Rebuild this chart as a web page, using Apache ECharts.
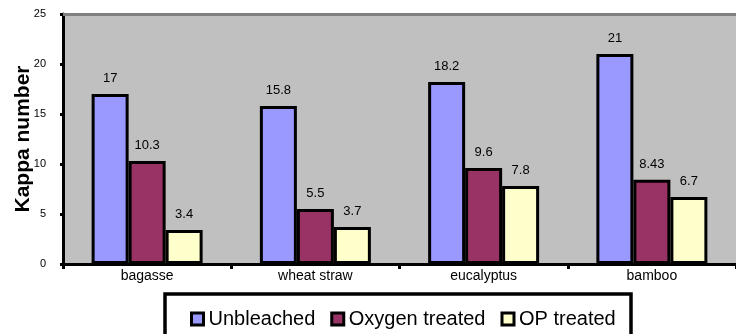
<!DOCTYPE html>
<html>
<head>
<meta charset="utf-8">
<script src="https://cdn.jsdelivr.net/npm/echarts@6/dist/echarts.min.js"></script>
<style>
  html, body { margin: 0; padding: 0; background: #fff; }
  #chart { width: 736px; height: 334px; }
</style>
</head>
<body>
<div id="chart"></div>
<script>
// Kappa number of pulps before and after oxygen / OP treatment
const categories = ['bagasse', 'wheat straw', 'eucalyptus', 'bamboo'];
const seriesNames = ['Unbleached', 'Oxygen treated', 'OP treated'];
const unbleached = [17, 15.8, 18.2, 21];
const oxygenTreated = [10.3, 5.5, 9.6, 8.43];
const opTreated = [3.4, 3.7, 7.8, 6.7];
const yTicks = [0, 5, 10, 15, 20, 25];

const colors = ['#9999ff', '#993366', '#ffffcc'];
const values = [unbleached, oxygenTreated, opTreated];
const FONT = '"Liberation Sans", Arial, sans-serif';

const chart = echarts.init(document.getElementById('chart'), null, { renderer: 'canvas' });

const series = seriesNames.map((name, i) => ({
  name: name,
  type: 'bar',
  data: values[i],
  barWidth: 37,
  barGap: '0%',
  itemStyle: { color: colors[i], borderColor: '#000', borderWidth: 3 },
  label: {
    show: true,
    position: 'top',
    distance: 9,
    color: '#000',
    fontSize: 13,
    fontFamily: FONT,
    formatter: p => String(p.value)
  }
}));

chart.setOption({
  animation: false,
  backgroundColor: '#fff',
  textStyle: { fontFamily: FONT },
  grid: {
    left: 63, right: 0, top: 14, bottom: 70,
    containLabel: false,
    outerBoundsMode: 'none',
    show: true, backgroundColor: '#c0c0c0', borderWidth: 0
  },
  legend: {
    data: seriesNames,
    left: 190,
    top: 309,
    padding: 0,
    itemGap: 15,
    itemWidth: 12,
    itemHeight: 12,
    icon: 'rect',
    itemStyle: { borderColor: '#000', borderWidth: 3 },
    textStyle: { fontSize: 20, color: '#000', fontFamily: FONT }
  },
  xAxis: [{
    type: 'category',
    data: categories,
    axisLine: { lineStyle: { color: '#000', width: 3 } },
    axisTick: { show: true, length: 5, lineStyle: { color: '#000', width: 3 } },
    axisLabel: { color: '#000', fontSize: 14, fontFamily: FONT, margin: 5 }
  }, {
    type: 'category',
    position: 'top',
    data: categories,
    axisLine: { show: true, lineStyle: { color: '#808080', width: 3 } },
    axisTick: { show: false },
    axisLabel: { show: false }
  }],
  yAxis: {
    type: 'value',
    min: yTicks[0],
    max: yTicks[yTicks.length - 1],
    interval: 5,
    name: 'Kappa number',
    nameLocation: 'middle',
    nameGap: 29,
    nameMoveOverlap: false,
    nameTextStyle: { fontSize: 21, fontWeight: 'bold', color: '#000', fontFamily: FONT },
    axisLine: { show: true, lineStyle: { color: '#000', width: 3 } },
    axisTick: { show: true, length: 3, lineStyle: { color: '#000', width: 3 } },
    axisLabel: { color: '#000', fontSize: 11, fontFamily: FONT, margin: 17 },
    splitLine: { show: false }
  },
  graphic: [{
    type: 'rect',
    shape: { x: 165, y: 294, width: 466, height: 60 },
    style: { fill: 'none', stroke: '#000', lineWidth: 3.5 },
    z: 10
  }],
  series: series
});
</script>
</body>
</html>
